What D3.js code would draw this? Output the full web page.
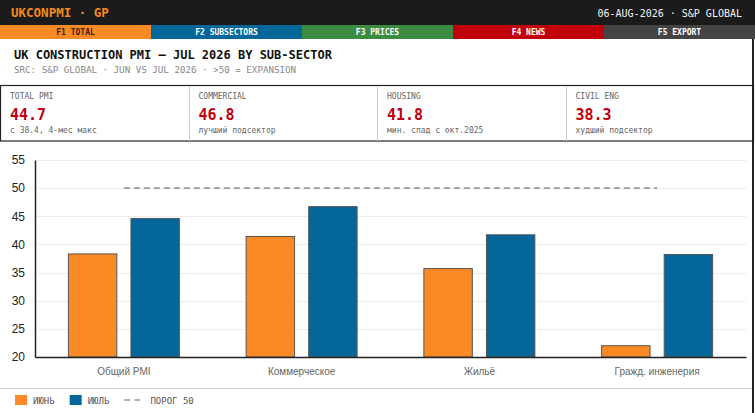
<!DOCTYPE html>
<html>
<head>
<meta charset="utf-8">
<script src="https://cdn.jsdelivr.net/npm/d3@7"></script>
<style>
  body { margin: 0; background: #fff; }
  svg { display: block; }
  .mono { font-family: "DejaVu Sans Mono", monospace; }
</style>
</head>
<body>
<svg id="chart" width="755" height="413"></svg>
<script>
/** data **/
var categories = ["Общий PMI", "Коммерческое", "Жильё", "Гражд. инженерия"];
var seriesNames = ["ИЮНЬ", "ИЮЛЬ"];
var junValues = [38.4, 41.5, 35.8, 22.1];
var julValues = [44.7, 46.8, 41.8, 38.3];
var threshold = 50;
var thresholdLabel = "ПОРОГ 50";
var yTicks = [20, 25, 30, 35, 40, 45, 50, 55];
var tabs = ["F1 TOTAL", "F2 SUBSECTORS", "F3 PRICES", "F4 NEWS", "F5 EXPORT"];
var kpiLabels = ["TOTAL PMI", "COMMERCIAL", "HOUSING", "CIVIL ENG"];
var kpiValues = ["44.7", "46.8", "41.8", "38.3"];
var kpiNotes = ["с 38.4, 4-мес макс", "лучший подсектор", "мин. спад с окт.2025", "худший подсектор"];

var W = 755, H = 413;
var orange = "#fb8a26", blue = "#05669a";
var tabColors = [orange, blue, "#3b8b42", "#c1000b", "#444"];
var tabText = ["#3a2208", "#fff", "#fff", "#fff", "#fff"];

var svg = d3.select("#chart");

// top bar
svg.append("rect").attr("x", 0).attr("y", 0).attr("width", W).attr("height", 25).attr("fill", "#1b1b1b");
svg.append("text").attr("class", "mono").attr("x", 11).attr("y", 17)
  .attr("font-size", 12.5).attr("font-weight", "bold").attr("fill", "#f58a1f")
  .text("UKCONPMI · GP");
svg.append("text").attr("class", "mono").attr("x", 742).attr("y", 16.5)
  .attr("text-anchor", "end").attr("font-size", 10).attr("fill", "#f4f4f4")
  .text("06-AUG-2026 · S&P GLOBAL");

// tabs
var tabX = d3.scaleBand().domain(tabs).range([0, W]);
var tabG = svg.selectAll("g.tab").data(tabs).enter().append("g").attr("class", "tab");
tabG.append("rect")
  .attr("x", function(d) { return tabX(d); }).attr("y", 25)
  .attr("width", tabX.bandwidth()).attr("height", 14)
  .attr("fill", function(d, i) { return tabColors[i]; });
tabG.append("text").attr("class", "mono")
  .attr("x", function(d) { return tabX(d) + tabX.bandwidth() / 2; }).attr("y", 35)
  .attr("text-anchor", "middle").attr("font-size", 8).attr("font-weight", "bold")
  .attr("fill", function(d, i) { return tabText[i]; })
  .text(function(d) { return d; });

// right border of the body
svg.append("line").attr("x1", 753).attr("x2", 753).attr("y1", 39).attr("y2", H)
  .attr("stroke", "#222").attr("stroke-width", 2);

// titles
svg.append("text").attr("class", "mono").attr("x", 14).attr("y", 59)
  .attr("font-size", 12).attr("font-weight", "bold").attr("fill", "#111")
  .text("UK CONSTRUCTION PMI — JUL 2026 BY SUB-SECTOR");
svg.append("text").attr("class", "mono").attr("x", 14).attr("y", 73)
  .attr("font-size", 9.2).attr("fill", "#888")
  .text("SRC: S&P GLOBAL · JUN VS JUL 2026 · >50 = EXPANSION");

// KPI row
var kpiX = d3.scaleBand().domain(kpiLabels).range([0, W - 1]);
svg.append("rect").attr("x", 0.5).attr("y", 85.5).attr("width", W - 2).attr("height", 55.5)
  .attr("fill", "none").attr("stroke", "#222").attr("stroke-width", 1.2);
var kpiG = svg.selectAll("g.kpi").data(kpiLabels).enter().append("g").attr("class", "kpi");
kpiG.filter(function(d, i) { return i > 0; }).append("line")
  .attr("x1", function(d) { return Math.round(kpiX(d)) + 0.5; })
  .attr("x2", function(d) { return Math.round(kpiX(d)) + 0.5; })
  .attr("y1", 86).attr("y2", 141).attr("stroke", "#ccc");
kpiG.append("text").attr("class", "mono")
  .attr("x", function(d) { return kpiX(d) + 10; }).attr("y", 99)
  .attr("font-size", 8).attr("fill", "#666").text(function(d) { return d; });
kpiG.append("text").attr("class", "mono")
  .attr("x", function(d) { return kpiX(d) + 10; }).attr("y", 119.5)
  .attr("font-size", 15).attr("font-weight", "bold").attr("fill", "#c0000b")
  .text(function(d, i) { return kpiValues[i]; });
kpiG.append("text").attr("class", "mono")
  .attr("x", function(d) { return kpiX(d) + 10; }).attr("y", 132.5)
  .attr("font-size", 8).attr("fill", "#666").text(function(d, i) { return kpiNotes[i]; });

// chart
var plotL = 35, plotR = 746, plotT = 160, plotB = 357;
var y = d3.scaleLinear().domain([20, 55]).range([plotB, plotT]);
var x0 = d3.scaleBand().domain(categories).range([plotL, plotR]);
var groupW = x0.bandwidth() * 0.63;
var x1 = d3.scaleBand().domain(seriesNames).range([0, groupW]).paddingInner(0.21);

var plot = svg.append("g");

// grid
plot.selectAll("line.grid").data(yTicks).enter().append("line")
  .attr("x1", plotL).attr("x2", plotR)
  .attr("y1", function(d) { return Math.round(y(d)) + 0.5; })
  .attr("y2", function(d) { return Math.round(y(d)) + 0.5; })
  .attr("stroke", "#ececec");

// bars
var rows = categories.map(function(c, i) { return [junValues[i], julValues[i]]; });
var colors = [orange, blue];
var grp = plot.selectAll("g.cat").data(rows).enter().append("g")
  .attr("transform", function(d, i) {
    return "translate(" + (x0(categories[i]) + (x0.bandwidth() - groupW) / 2) + ",0)";
  });
grp.selectAll("rect").data(function(d) { return d; }).enter().append("rect")
  .attr("x", function(d, j) { return x1(seriesNames[j]) + 0.5; })
  .attr("y", function(d) { return y(d) + 0.5; })
  .attr("width", x1.bandwidth() - 1)
  .attr("height", function(d) { return plotB - y(d) - 0.5; })
  .attr("fill", function(d, j) { return colors[j]; })
  .attr("stroke", "#555").attr("stroke-width", 1);

// threshold line
var thr = d3.line()
  .x(function(d) { return x0(d) + x0.bandwidth() / 2; })
  .y(function() { return y(threshold); });
plot.append("path").datum([categories[0], categories[categories.length - 1]])
  .attr("d", thr).attr("fill", "none")
  .attr("stroke", "#999").attr("stroke-width", 1.6).attr("stroke-dasharray", "6,4");

// axes
var yAxis = d3.axisLeft(y).tickValues(yTicks).tickSize(0).tickPadding(10);
var gy = plot.append("g").attr("transform", "translate(" + plotL + ",0)").call(yAxis);
gy.select(".domain").attr("stroke", "#222").attr("stroke-width", 1.5);
gy.selectAll("text").attr("font-family", "Liberation Sans, Arial, sans-serif")
  .attr("font-size", 12).attr("fill", "#222");

var xAxis = d3.axisBottom(x0).tickSize(0).tickPadding(11);
var gx = plot.append("g").attr("transform", "translate(0," + plotB + ")").call(xAxis);
gx.select(".domain").attr("stroke", "#222").attr("stroke-width", 1.5);
gx.selectAll("text").attr("font-family", "Liberation Sans, Arial, sans-serif")
  .attr("font-size", 10).attr("fill", "#666");

// panel bottom line
svg.append("line").attr("x1", 0).attr("x2", 752).attr("y1", 388.5).attr("y2", 388.5)
  .attr("stroke", "#cfcfcf");

// legend
var leg = svg.append("g").attr("transform", "translate(15,401)");
var lx = 0;
seriesNames.forEach(function(s, i) {
  leg.append("rect").attr("x", lx).attr("y", -6).attr("width", 12).attr("height", 10)
    .attr("fill", colors[i]);
  var t = leg.append("text").attr("class", "mono").attr("x", lx + 18).attr("y", 3)
    .attr("font-size", 9).attr("fill", "#555").text(s);
  lx += 18 + t.node().getComputedTextLength() + 15;
});
leg.append("line").attr("x1", lx).attr("x2", lx + 20).attr("y1", -1).attr("y2", -1)
  .attr("stroke", "#999").attr("stroke-width", 1.6).attr("stroke-dasharray", "6,4");
leg.append("text").attr("class", "mono").attr("x", lx + 26).attr("y", 3)
  .attr("font-size", 9).attr("fill", "#555").text(thresholdLabel);
</script>
</body>
</html>
